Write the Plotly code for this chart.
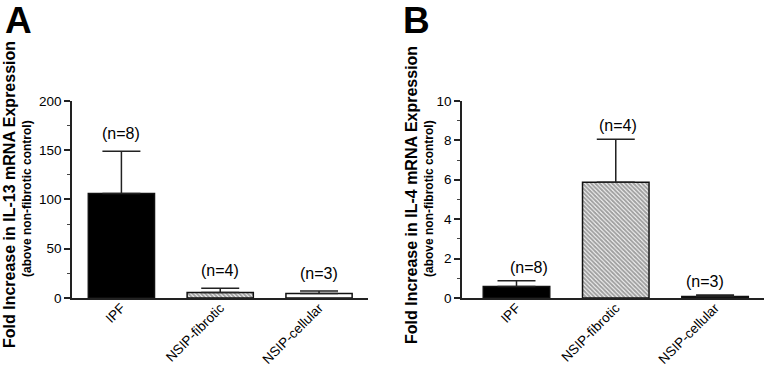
import plotly.graph_objects as go

categories = ["IPF", "NSIP-fibrotic", "NSIP-cellular"]
il13_mean = [106, 5.5, 4.5]
il13_err = [43, 4.5, 2.5]
il4_mean = [0.58, 5.88, 0.08]
il4_err = [0.3, 2.18, 0.07]
n_labels = ["(n=8)", "(n=4)", "(n=3)"]
il13_ticks = [0, 50, 100, 150, 200]
il4_ticks = [0, 2, 4, 6, 8, 10]

FONT = "Arial, Liberation Sans, sans-serif"
colors = ["black", "white", "white"]
shapes = ["", "\\", ""]

fig = go.Figure()

def add_bars(xa, ya, means, errs):
    fig.add_trace(go.Bar(
        x=categories, y=means, xaxis=xa, yaxis=ya, width=0.67,
        marker=dict(color=colors, line=dict(color="#111", width=1.5),
                    pattern=dict(shape=shapes, fgcolor="#000", bgcolor="white",
                                 size=3, solidity=0.7)),
        error_y=dict(type="data", array=errs, arrayminus=[0] * len(errs),
                     symmetric=False, color="#222", thickness=1.5, width=19),
        showlegend=False))

add_bars("x", "y", il13_mean, il13_err)
add_bars("x2", "y2", il4_mean, il4_err)

line_common = dict(showline=True, linecolor="#222", linewidth=1.5, showgrid=False,
                   zeroline=False, automargin=False)
ytick_font = dict(family=FONT, size=13.5, color="#000")
xtick_font = dict(family=FONT, size=13.5, color="#000")

fig.update_layout(
    width=766, height=367, paper_bgcolor="white", plot_bgcolor="white",
    margin=dict(l=0, r=0, t=0, b=0),
    font=dict(family=FONT, color="#000"),
    xaxis=dict(domain=[0.094, 0.481], range=[-0.5, 2.5], tickangle=-45,
               ticks="", tickfont=xtick_font, ticklabelstandoff=-5, anchor="y", **line_common),
    yaxis=dict(domain=[0.188, 0.725], range=[0, 200], tickvals=il13_ticks,
               ticks="outside", ticklen=6, tickwidth=1.5, tickcolor="#222",
               tickfont=ytick_font,
               minor=dict(dtick=25, ticks="outside", ticklen=3, tickwidth=1, tickcolor="#444"),
               anchor="x", **line_common),
    xaxis2=dict(domain=[0.603, 0.997], range=[-0.55, 2.49], tickangle=-45,
                ticks="", tickfont=xtick_font, ticklabelstandoff=-5, anchor="y2", **line_common),
    yaxis2=dict(domain=[0.188, 0.725], range=[0, 10], tickvals=il4_ticks,
                ticks="outside", ticklen=6, tickwidth=1.5, tickcolor="#222",
                tickfont=ytick_font,
                minor=dict(dtick=1, ticks="outside", ticklen=3, tickwidth=1, tickcolor="#444"),
                anchor="x2", **line_common),
)

ann = []
for i, c in enumerate(categories):
    ann.append(dict(x=c, y=il13_mean[i] + il13_err[i], xref="x", yref="y",
                    text=n_labels[i], showarrow=False, yanchor="bottom", yshift=7,
                    font=dict(family=FONT, size=16, color="#000")))
shifts_b = [13, 2, -10]
for i, c in enumerate(categories):
    ann.append(dict(x=c, y=il4_mean[i] + il4_err[i], xref="x2", yref="y2",
                    text=n_labels[i], showarrow=False, yanchor="bottom", yshift=3,
                    xshift=shifts_b[i], font=dict(family=FONT, size=16, color="#000")))

# panel letters
for xl, letter in [(4, "A"), (402, "B")]:
    ann.append(dict(x=xl / 766, y=1.0, xref="paper", yref="paper", text=f"<b>{letter}</b>",
                    showarrow=False, xanchor="left", yanchor="top", yshift=1, borderpad=0,
                    font=dict(family=FONT, size=37, color="#000")))

# y-axis titles
for xc1, xc2, title in [(9, 27, "IL-13"), (411, 429, "IL-4")]:
    ann.append(dict(x=xc1 / 766, y=1 - 195 / 367, xref="paper", yref="paper",
                    text=f"<b>Fold Increase in {title} mRNA Expression</b>",
                    textangle=-90, showarrow=False, xanchor="center", yanchor="middle",
                    font=dict(family=FONT, size=16, color="#000")))
    ann.append(dict(x=xc2 / 766, y=1 - 199 / 367, xref="paper", yref="paper",
                    text="<b>(above non-fibrotic control)</b>",
                    textangle=-90, showarrow=False, xanchor="center", yanchor="middle",
                    font=dict(family=FONT, size=12, color="#000")))

fig.update_layout(annotations=ann)
fig.write_html("out.html", config={"displayModeBar": False},
               post_script="document.body.style.margin='0';")
